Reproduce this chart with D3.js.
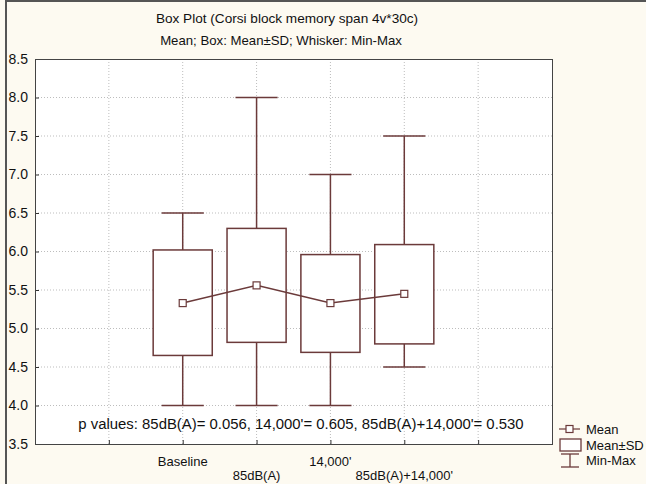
<!DOCTYPE html>
<html>
<head>
<meta charset="utf-8">
<script src="https://cdn.jsdelivr.net/npm/d3@7"></script>
<style>
  html, body { margin: 0; padding: 0; background: #fdfaf1; }
  svg text { font-family: "Liberation Sans", Arial, sans-serif; fill: #111; }
</style>
</head>
<body>
<script>
// data
var categories = ["Baseline", "85dB(A)", "14,000'", "85dB(A)+14,000'"];
var catPos = [2, 3, 4, 5];
var means = [5.33, 5.56, 5.33, 5.45];
var sdLow = [4.65, 4.82, 4.69, 4.80];
var sdHigh = [6.02, 6.30, 5.96, 6.09];
var mins = [4.0, 4.0, 4.0, 4.5];
var maxs = [6.5, 8.0, 7.0, 7.5];
var yTicks = [3.5, 4.0, 4.5, 5.0, 5.5, 6.0, 6.5, 7.0, 7.5, 8.0, 8.5];
var xGrid = [1, 2, 3, 4, 5, 6];
var legendLabels = ["Mean", "Mean\u00b1SD", "Min-Max"];
var titleText = "Box Plot (Corsi block memory span 4v*30c)";
var subtitleText = "Mean; Box: Mean\u00b1SD; Whisker: Min-Max";
var pText = "p values: 85dB(A)= 0.056, 14,000'= 0.605, 85dB(A)+14,000'= 0.530";

var W = 646, H = 484;
var pLeft = 35, pRight = 552, pTop = 59, pBottom = 444;
var markColor = "#6b3a3a";

var svg = d3.select("body").append("svg")
	.attr("width", W)
	.attr("height", H);

svg.append("rect").attr("width", W).attr("height", H).attr("fill", "#fdfaf1");
// window border (top and left)
svg.append("line").attr("x1", 6).attr("x2", W).attr("y1", 1).attr("y2", 1)
	.attr("stroke", "#555").attr("stroke-width", 2);
svg.append("line").attr("x1", 6).attr("x2", 6).attr("y1", 0).attr("y2", H)
	.attr("stroke", "#555").attr("stroke-width", 2);

var x = d3.scaleLinear().domain([0, 7]).range([pLeft, pRight]);
var y = d3.scaleLinear().domain([3.5, 8.5]).range([pBottom, pTop]);

svg.append("rect")
	.attr("x", pLeft).attr("y", pTop)
	.attr("width", pRight - pLeft).attr("height", pBottom - pTop)
	.attr("fill", "#fff");

// grid
svg.selectAll(".hgrid").data(yTicks.slice(1, -1)).enter()
	.append("line")
	.attr("x1", pLeft).attr("x2", pRight)
	.attr("y1", function(d){ return y(d); })
	.attr("y2", function(d){ return y(d); })
	.attr("stroke", "#bdbdbd").attr("stroke-dasharray", "1,2");
svg.selectAll(".vgrid").data(xGrid).enter()
	.append("line")
	.attr("y1", pTop).attr("y2", pBottom)
	.attr("x1", function(d){ return x(d); })
	.attr("x2", function(d){ return x(d); })
	.attr("stroke", "#bdbdbd").attr("stroke-dasharray", "1,2");

// axes
var yAxis = d3.axisRight(y).tickValues(yTicks).tickSize(4).tickFormat("");
svg.append("g").attr("transform", "translate(" + pLeft + ",0)").call(yAxis)
	.call(function(g){ g.select(".domain").remove(); })
	.selectAll("line").attr("stroke", "#333");
var xAxis = d3.axisTop(x).tickValues(xGrid).tickSize(4).tickFormat("");
svg.append("g").attr("transform", "translate(0," + pBottom + ")").call(xAxis)
	.call(function(g){ g.select(".domain").remove(); })
	.selectAll("line").attr("stroke", "#333");

svg.append("rect")
	.attr("x", pLeft + 0.5).attr("y", pTop + 0.5)
	.attr("width", pRight - pLeft).attr("height", pBottom - pTop)
	.attr("fill", "none").attr("stroke", "#444");

svg.selectAll(".ylab").data(yTicks).enter()
	.append("text")
	.attr("x", 28).attr("y", function(d){ return y(d); })
	.attr("dy", "0.35em").attr("text-anchor", "end")
	.style("font-size", "14px")
	.text(function(d){ return d.toFixed(1); });

svg.selectAll(".xlab").data(categories).enter()
	.append("text")
	.attr("x", function(d, i){ return x(catPos[i]); })
	.attr("y", function(d, i){ return i % 2 === 0 ? 466 : 480; })
	.attr("text-anchor", "middle")
	.style("font-size", "13px")
	.text(function(d){ return d; });

// boxes and whiskers
var boxW = x(0.8) - x(0), capW = x(0.57) - x(0);
var g = svg.selectAll(".set").data(categories).enter().append("g");
g.append("line")
	.attr("x1", function(d, i){ return x(catPos[i]); })
	.attr("x2", function(d, i){ return x(catPos[i]); })
	.attr("y1", function(d, i){ return y(maxs[i]); })
	.attr("y2", function(d, i){ return y(mins[i]); })
	.attr("stroke", markColor).attr("stroke-width", 1.5);
g.append("rect")
	.attr("x", function(d, i){ return x(catPos[i]) - boxW / 2; })
	.attr("y", function(d, i){ return y(sdHigh[i]); })
	.attr("width", boxW)
	.attr("height", function(d, i){ return y(sdLow[i]) - y(sdHigh[i]); })
	.attr("fill", "#fff").attr("stroke", markColor).attr("stroke-width", 1.5);
[maxs, mins].forEach(function(arr){
	g.append("line")
		.attr("x1", function(d, i){ return x(catPos[i]) - capW / 2; })
		.attr("x2", function(d, i){ return x(catPos[i]) + capW / 2; })
		.attr("y1", function(d, i){ return y(arr[i]); })
		.attr("y2", function(d, i){ return y(arr[i]); })
		.attr("stroke", markColor).attr("stroke-width", 1.5);
});

var line = d3.line()
	.x(function(d, i){ return x(catPos[i]); })
	.y(function(d){ return y(d); });
svg.append("path").datum(means)
	.attr("d", line).attr("fill", "none")
	.attr("stroke", markColor).attr("stroke-width", 1.5);
svg.selectAll(".mean").data(means).enter()
	.append("rect")
	.attr("x", function(d, i){ return x(catPos[i]) - 3.5; })
	.attr("y", function(d){ return y(d) - 3.5; })
	.attr("width", 7).attr("height", 7)
	.attr("fill", "#fff").attr("stroke", markColor).attr("stroke-width", 1.2);

// titles and note
svg.append("text").attr("x", 287).attr("y", 23).attr("text-anchor", "middle")
	.style("font-size", "13.6px").text(titleText);
svg.append("text").attr("x", 281).attr("y", 45).attr("text-anchor", "middle")
	.style("font-size", "13.2px").text(subtitleText);
svg.append("text").attr("x", 301).attr("y", 429).attr("text-anchor", "middle")
	.style("font-size", "14.9px").text(pText);

// legend
var lg = svg.append("g").attr("transform", "translate(559,0)");
var ly = [429, 445, 460];
lg.append("line").attr("x1", 0).attr("x2", 21).attr("y1", ly[0]).attr("y2", ly[0])
	.attr("stroke", markColor).attr("stroke-width", 1.2);
lg.append("rect").attr("x", 7).attr("y", ly[0] - 3.5).attr("width", 7).attr("height", 7)
	.attr("fill", "#fff").attr("stroke", markColor).attr("stroke-width", 1.2);
lg.append("rect").attr("x", 1).attr("y", ly[1] - 6).attr("width", 21).attr("height", 12)
	.attr("fill", "#fff").attr("stroke", markColor).attr("stroke-width", 1.3);
lg.append("line").attr("x1", 2).attr("x2", 20).attr("y1", ly[2] - 6).attr("y2", ly[2] - 6)
	.attr("stroke", markColor).attr("stroke-width", 1.3);
lg.append("line").attr("x1", 2).attr("x2", 20).attr("y1", ly[2] + 7).attr("y2", ly[2] + 7)
	.attr("stroke", markColor).attr("stroke-width", 1.3);
lg.append("line").attr("x1", 11).attr("x2", 11).attr("y1", ly[2] - 6).attr("y2", ly[2] + 7)
	.attr("stroke", markColor).attr("stroke-width", 1.3);
lg.selectAll(".ltxt").data(legendLabels).enter()
	.append("text")
	.attr("x", 27).attr("y", function(d, i){ return ly[i]; })
	.attr("dy", "0.35em")
	.style("font-size", "13px")
	.text(function(d){ return d; });
</script>
</body>
</html>
